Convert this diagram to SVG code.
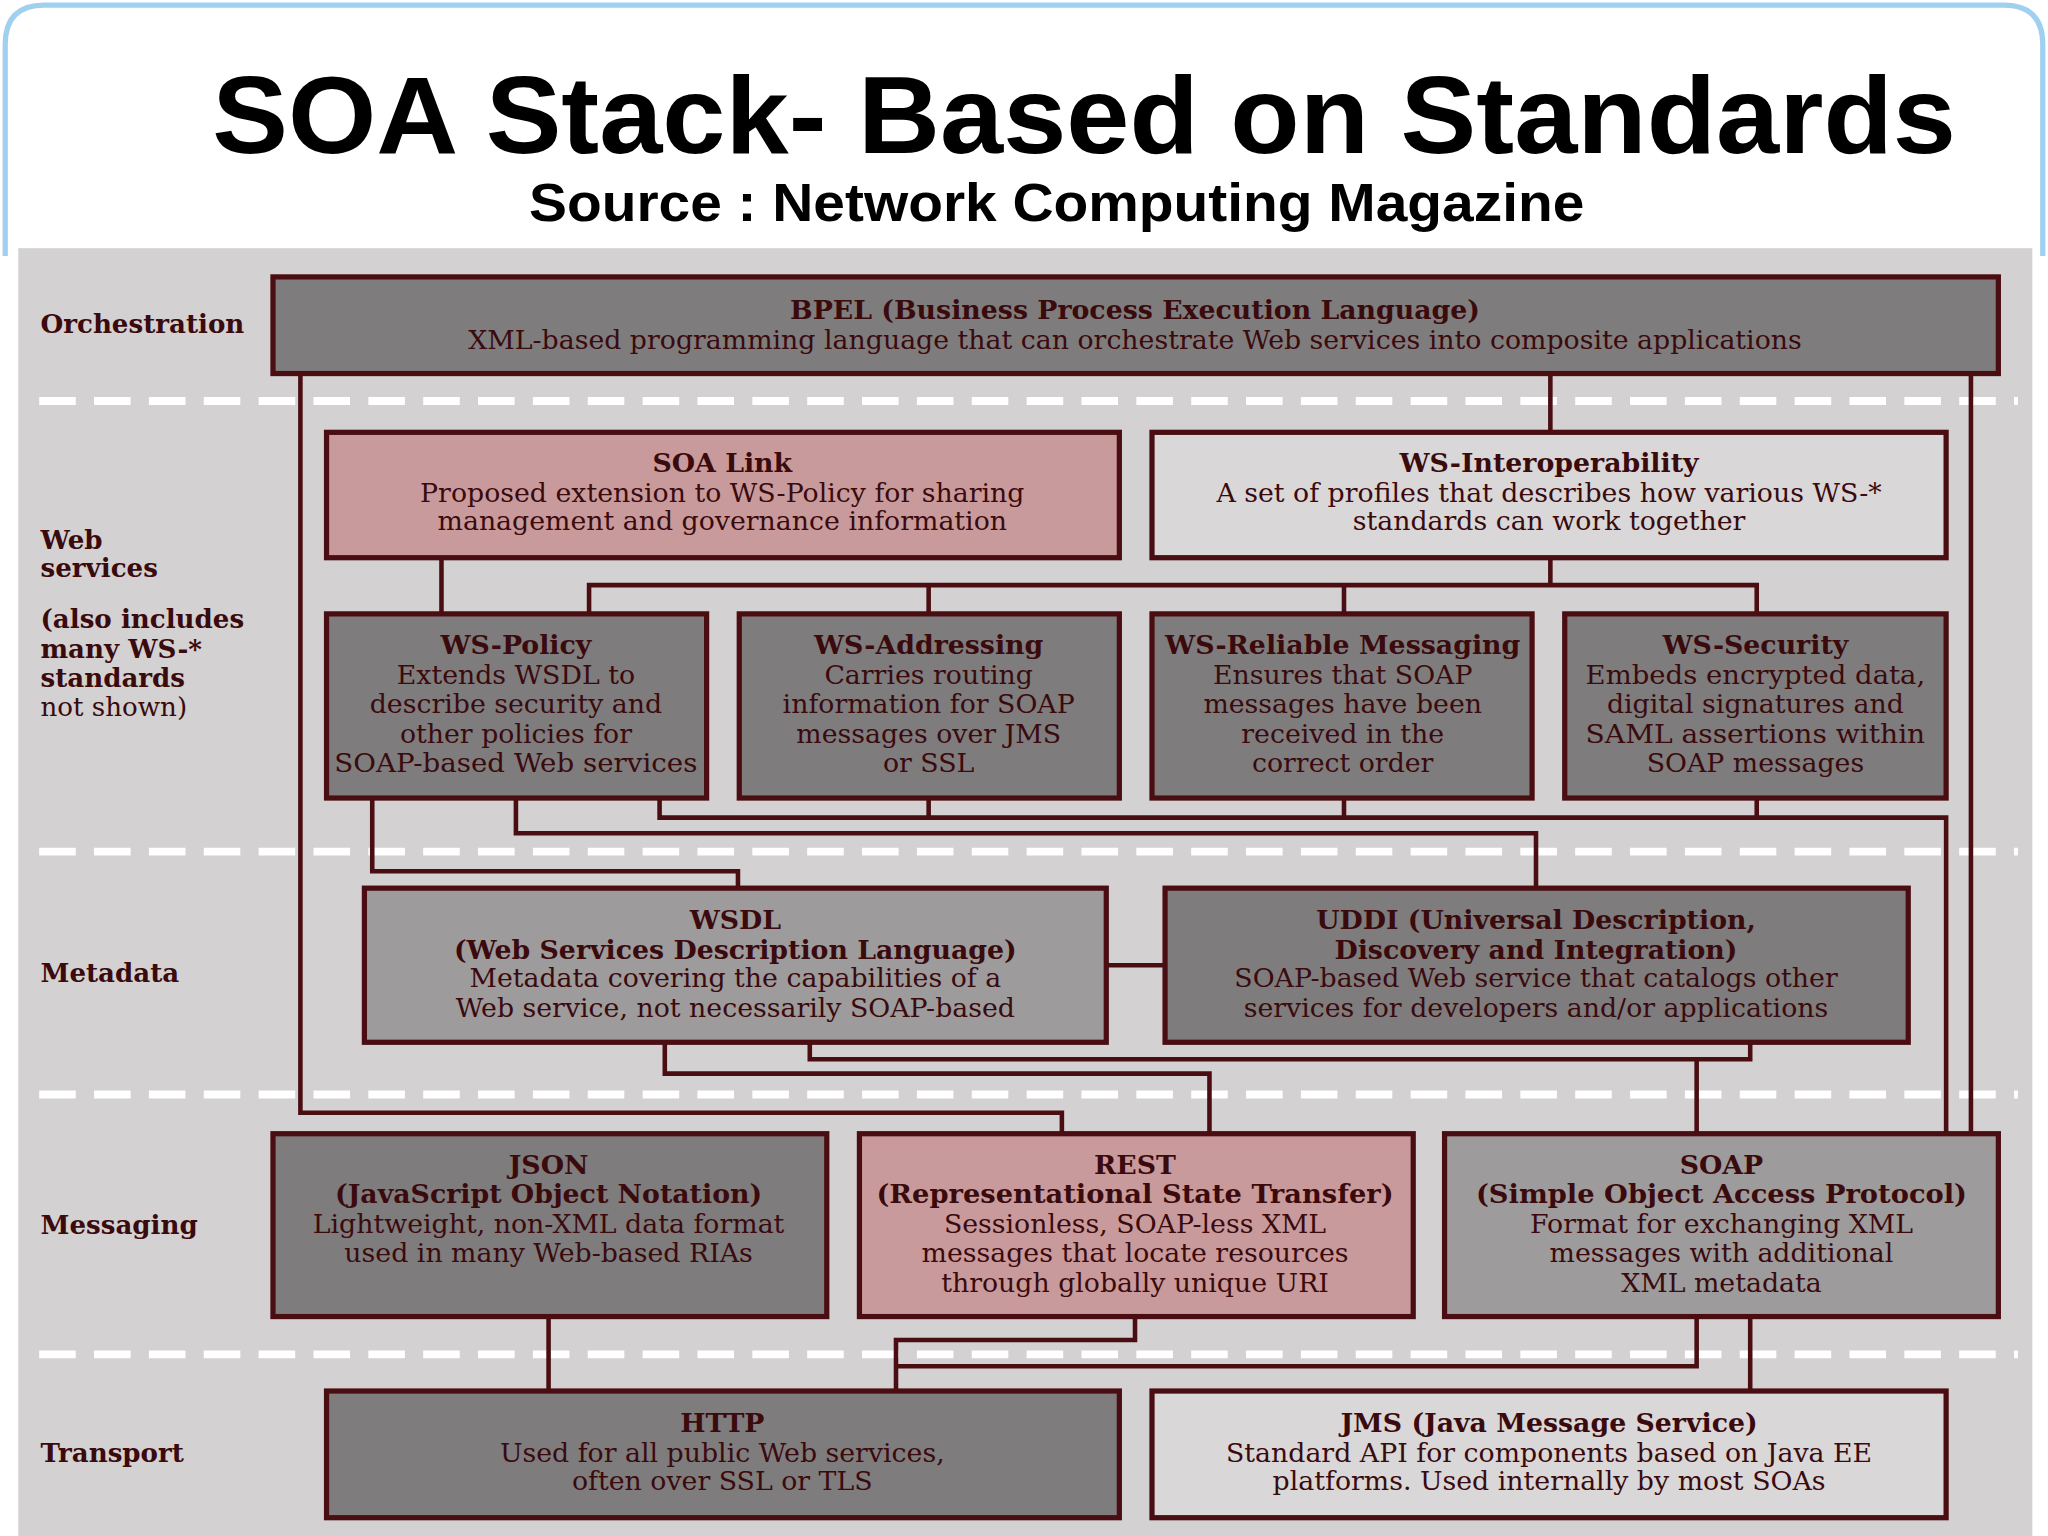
<svg xmlns="http://www.w3.org/2000/svg" width="2048" height="1536" viewBox="0 0 2048 1536">
<style>
.b{stroke:#4a0e12;stroke-width:4}
.d{fill:#7e7c7d}.p{fill:#c99a9b}.l{fill:#d9d7d8}.m{fill:#9d9b9c}
.c{fill:none;stroke:#4a0e12;stroke-width:3.5}
.dash{stroke:#fff;stroke-width:6;stroke-dasharray:28 14}
text{font-family:"DejaVu Serif","Liberation Serif",serif;font-size:20.5px;fill:#3a0a0d;text-anchor:middle}
.t{font-weight:bold}
.lab{text-anchor:start;font-weight:bold;font-size:20px}
</style>
<rect width="2048" height="1536" fill="#fff"/>
<g transform="scale(1.30612)">
<path d="M4 196V34Q4 4 34 4H1534Q1564 4 1564 34V196" fill="#fff" stroke="#9fd0ef" stroke-width="4"/>
<rect x="14" y="190" width="1542" height="990" fill="#d3d1d2"/>
<text x="830" y="117" textLength="1335" lengthAdjust="spacingAndGlyphs" style="font-family:'Liberation Sans',Arial,sans-serif;font-size:84px;font-weight:bold;fill:#000">SOA Stack- Based on Standards</text>
<text x="809" y="169" textLength="808" lengthAdjust="spacingAndGlyphs" style="font-family:'Liberation Sans',Arial,sans-serif;font-size:41px;font-weight:bold;fill:#000">Source : Network Computing Magazine</text>
<g id="dashes">
<line class="dash" x1="30" y1="307" x2="1545" y2="307"/>
<line class="dash" x1="30" y1="652" x2="1545" y2="652"/>
<line class="dash" x1="30" y1="838" x2="1545" y2="838"/>
<line class="dash" x1="30" y1="1037" x2="1545" y2="1037"/>
</g>
<g id="labels">
<text class="lab" x="31" y="255">Orchestration</text>
<text class="lab" x="31" y="420">Web</text>
<text class="lab" x="31" y="442">services</text>
<text class="lab" x="31" y="481">(also includes</text>
<text class="lab" x="31" y="504">many WS-*</text>
<text class="lab" x="31" y="526">standards</text>
<text x="31" y="548" style="text-anchor:start;font-size:20px">not shown)</text>
<text class="lab" x="31" y="752">Metadata</text>
<text class="lab" x="31" y="945">Messaging</text>
<text class="lab" x="31" y="1119">Transport</text>
</g>
<g id="connectors">
<path class="c" d="M230 286V852H813V868"/>
<path class="c" d="M1187 286V331"/>
<path class="c" d="M1509 286V868"/>
<path class="c" d="M338 427V470"/>
<path class="c" d="M1187 427V448M451 470V448H1345V470M711 448V470M1029 448V470"/>
<path class="c" d="M285 611V667H565V680"/>
<path class="c" d="M395 611V638H1176V680"/>
<path class="c" d="M505 611V626H1490V868M711 611V626M1029 611V626M1345 611V626"/>
<path class="c" d="M847 739H892"/>
<path class="c" d="M509 798V822H926V868"/>
<path class="c" d="M620 798V811H1299V868M1340 798V811H1299"/>
<path class="c" d="M420 1008V1065"/>
<path class="c" d="M869 1008V1026H686V1065M686 1046H1299V1008"/>
<path class="c" d="M1340 1008V1065"/>
</g>
<g id="bpel"><rect class="b d" x="209" y="212" width="1321" height="74"/>
<text class="t" x="869" y="244">BPEL (Business Process Execution Language)</text>
<text x="869" y="267">XML-based programming language that can orchestrate Web services into composite applications</text></g>
<g id="soalink"><rect class="b p" x="250" y="331" width="607" height="96"/>
<text class="t" x="553" y="361">SOA Link</text>
<text x="553" y="384">Proposed extension to WS-Policy for sharing</text>
<text x="553" y="406">management and governance information</text></g>
<g id="wsinterop"><rect class="b l" x="882" y="331" width="608" height="96"/>
<text class="t" x="1186" y="361">WS-Interoperability</text>
<text x="1186" y="384">A set of profiles that describes how various WS-*</text>
<text x="1186" y="406">standards can work together</text></g>
<g id="wspolicy"><rect class="b d" x="250" y="470" width="291" height="141"/>
<text class="t" x="395" y="501">WS-Policy</text>
<text x="395" y="524">Extends WSDL to</text>
<text x="395" y="546">describe security and</text>
<text x="395" y="569">other policies for</text>
<text x="395" y="591" textLength="278" lengthAdjust="spacingAndGlyphs">SOAP-based Web services</text></g>
<g id="wsaddressing"><rect class="b d" x="566" y="470" width="291" height="141"/>
<text class="t" x="711" y="501">WS-Addressing</text>
<text x="711" y="524">Carries routing</text>
<text x="711" y="546">information for SOAP</text>
<text x="711" y="569">messages over JMS</text>
<text x="711" y="591">or SSL</text></g>
<g id="wsreliable"><rect class="b d" x="882" y="470" width="291" height="141"/>
<text class="t" x="1028" y="501" textLength="272" lengthAdjust="spacingAndGlyphs">WS-Reliable Messaging</text>
<text x="1028" y="524">Ensures that SOAP</text>
<text x="1028" y="546">messages have been</text>
<text x="1028" y="569">received in the</text>
<text x="1028" y="591">correct order</text></g>
<g id="wssecurity"><rect class="b d" x="1198" y="470" width="292" height="141"/>
<text class="t" x="1344" y="501">WS-Security</text>
<text x="1344" y="524" textLength="260" lengthAdjust="spacingAndGlyphs">Embeds encrypted data,</text>
<text x="1344" y="546">digital signatures and</text>
<text x="1344" y="569" textLength="260" lengthAdjust="spacingAndGlyphs">SAML assertions within</text>
<text x="1344" y="591">SOAP messages</text></g>
<g id="wsdl"><rect class="b m" x="279" y="680" width="568" height="118"/>
<text class="t" x="563" y="711">WSDL</text>
<text class="t" x="563" y="734">(Web Services Description Language)</text>
<text x="563" y="756">Metadata covering the capabilities of a</text>
<text x="563" y="779">Web service, not necessarily SOAP-based</text></g>
<g id="uddi"><rect class="b d" x="892" y="680" width="569" height="118"/>
<text class="t" x="1176" y="711">UDDI (Universal Description,</text>
<text class="t" x="1176" y="734">Discovery and Integration)</text>
<text x="1176" y="756">SOAP-based Web service that catalogs other</text>
<text x="1176" y="779">services for developers and/or applications</text></g>
<g id="json"><rect class="b d" x="209" y="868" width="424" height="140"/>
<text class="t" x="420" y="899">JSON</text>
<text class="t" x="420" y="921">(JavaScript Object Notation)</text>
<text x="420" y="944">Lightweight, non-XML data format</text>
<text x="420" y="966">used in many Web-based RIAs</text></g>
<g id="rest"><rect class="b p" x="658" y="868" width="424" height="140"/>
<text class="t" x="869" y="899">REST</text>
<text class="t" x="869" y="921" textLength="396" lengthAdjust="spacingAndGlyphs">(Representational State Transfer)</text>
<text x="869" y="944">Sessionless, SOAP-less XML</text>
<text x="869" y="966">messages that locate resources</text>
<text x="869" y="989">through globally unique URI</text></g>
<g id="soap"><rect class="b m" x="1106" y="868" width="424" height="140"/>
<text class="t" x="1318" y="899">SOAP</text>
<text class="t" x="1318" y="921" textLength="376" lengthAdjust="spacingAndGlyphs">(Simple Object Access Protocol)</text>
<text x="1318" y="944">Format for exchanging XML</text>
<text x="1318" y="966">messages with additional</text>
<text x="1318" y="989">XML metadata</text></g>
<g id="http"><rect class="b d" x="250" y="1065" width="607" height="97"/>
<text class="t" x="553" y="1096">HTTP</text>
<text x="553" y="1119">Used for all public Web services,</text>
<text x="553" y="1141">often over SSL or TLS</text></g>
<g id="jms"><rect class="b l" x="882" y="1065" width="608" height="97"/>
<text class="t" x="1186" y="1096">JMS (Java Message Service)</text>
<text x="1186" y="1119">Standard API for components based on Java EE</text>
<text x="1186" y="1141">platforms. Used internally by most SOAs</text></g>
</g>
</svg>
